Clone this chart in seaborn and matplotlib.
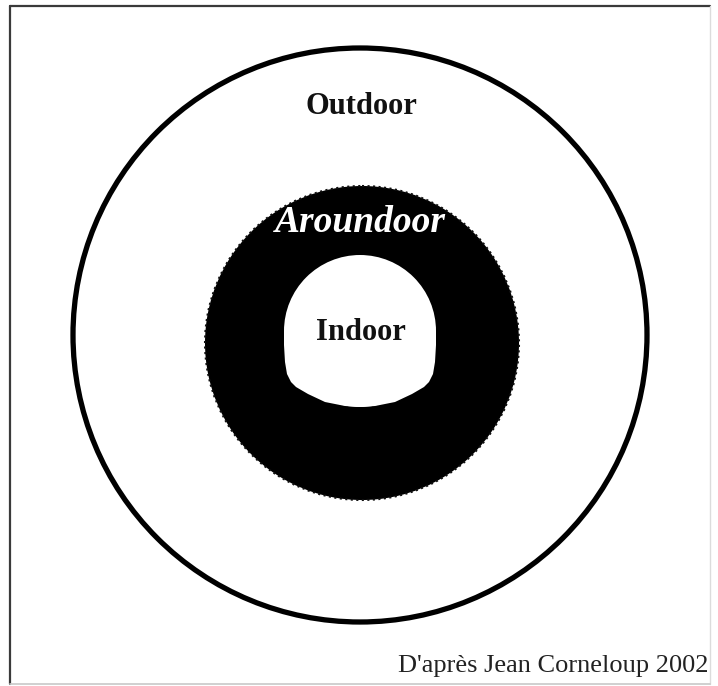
import numpy as np
import matplotlib
matplotlib.use("Agg")
import matplotlib.pyplot as plt
import matplotlib.patches as mpatches
import seaborn as sns

# diagram geometry, in pixel units of the 718x686 picture (y grows downward)
outer_center = (360, 335)
outer_radius = 287
ring_center = (362, 343)
ring_radius = 157
inner_center = (360, 331)
inner_radius = 76

# lower outline of the white "Indoor" area (the part that is not round)
inner_x = [284, 436, 436, 435, 433, 429, 424, 412, 395, 375, 360,
           345, 325, 308, 296, 291, 287, 285, 284]
inner_y = [331, 331, 345, 362, 374, 382, 387, 394, 402, 406, 407,
           406, 402, 394, 387, 382, 374, 362, 345]

labels = ["Outdoor", "Aroundoor", "Indoor"]
label_x = [361, 360, 361]
label_y = [107, 222, 333]
credit = "D'après Jean Corneloup 2002"

sns.set_style("white")
plt.rcParams['font.family'] = ['Liberation Serif', 'DejaVu Serif']

fig = plt.figure(figsize=(7.18, 6.86), dpi=100)
ax = fig.add_axes([0, 0, 1, 1])
ax.set_xlim(0, 718)
ax.set_ylim(686, 0)
ax.axis("off")

# frame
ax.plot([10, 10], [684, 6], color="#3a3a3a", lw=1.6)
ax.plot([10, 710], [6, 6], color="#3a3a3a", lw=1.6)
ax.plot([710, 710], [6, 684], color="#dcdcdc", lw=1.0)
ax.plot([10, 710], [684, 684], color="#c8c8c8", lw=1.2)

ax.add_patch(mpatches.Circle(outer_center, outer_radius, facecolor="none",
                             edgecolor="black", lw=3.8))
ax.add_patch(mpatches.Circle(ring_center, ring_radius, facecolor="black",
                             edgecolor="#111111", lw=1.5, ls=":"))
ax.add_patch(mpatches.Circle(inner_center, inner_radius, facecolor="white",
                             edgecolor="none"))
ax.add_patch(mpatches.Polygon(np.column_stack([inner_x, inner_y]), closed=True,
                              facecolor="white", edgecolor="none"))

ax.text(label_x[0], label_y[0], labels[0], ha="center", va="center",
        fontsize=22, fontweight="bold", color="#111111")
ax.text(label_x[1], label_y[1], labels[1], ha="center", va="center",
        fontsize=27, fontweight="bold", fontstyle="italic", color="white")
ax.text(label_x[2], label_y[2], labels[2], ha="center", va="center",
        fontsize=22, fontweight="bold", color="#111111")
ax.text(708, 666, credit, ha="right", va="center", fontsize=19, color="#222222")

fig.savefig("out.png", dpi=100)
